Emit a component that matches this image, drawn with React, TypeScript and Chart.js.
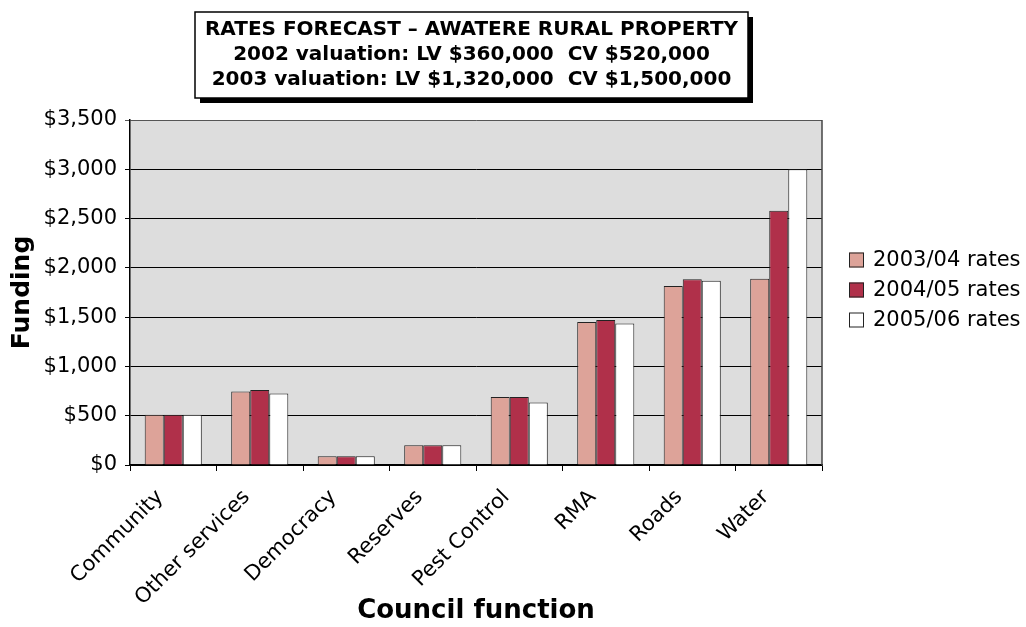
import React, { useEffect, useRef } from "react";
import { Chart, registerables } from "chart.js";

Chart.register(...registerables);

// Council functions along the category axis
const categories = [
  "Community",
  "Other services",
  "Democracy",
  "Reserves",
  "Pest Control",
  "RMA",
  "Roads",
  "Water",
];

// Funding per function, in dollars
const rates0304 = [510, 745, 90, 200, 690, 1450, 1815, 1890];
const rates0405 = [510, 760, 90, 200, 690, 1470, 1885, 2580];
const rates0506 = [510, 725, 90, 200, 635, 1435, 1870, 3000];

const seriesLabels = ["2003/04 rates", "2004/05 rates", "2005/06 rates"];
const seriesColors = ["#DDA399", "#B0304A", "#FFFFFF"];

const titleLines = [
  "RATES FORECAST – AWATERE RURAL PROPERTY",
  "2002 valuation: LV $360,000  CV $520,000",
  "2003 valuation: LV $1,320,000  CV $1,500,000",
];

const yMin = 0;
const yMax = 3500;
const yStep = 500;

const FONT = "'DejaVu Sans', Verdana, sans-serif";

// Grey plot background, right frame edge, boxed heading with drop shadow and the side key
const framePlugin = {
  id: "frame",
  beforeDraw(chart: any) {
    const { ctx, chartArea: a } = chart;
    ctx.save();
    ctx.fillStyle = "#DDDDDD";
    ctx.fillRect(a.left, a.top, a.right - a.left, a.bottom - a.top);
    ctx.restore();
  },
  afterDraw(chart: any) {
    const { ctx, chartArea: a } = chart;
    ctx.save();
    ctx.strokeStyle = "#444";
    ctx.lineWidth = 1.5;
    ctx.beginPath();
    ctx.moveTo(a.right, a.top);
    ctx.lineTo(a.right, a.bottom);
    ctx.stroke();

    // heading box
    const boxW = 553;
    const boxH = 86;
    const cx = 471.5;
    const bx = cx - boxW / 2;
    const by = 12;
    ctx.fillStyle = "#000";
    ctx.fillRect(bx + 5, by + 5, boxW, boxH);
    ctx.fillStyle = "#FFF";
    ctx.fillRect(bx, by, boxW, boxH);
    ctx.strokeStyle = "#000";
    ctx.lineWidth = 1.5;
    ctx.strokeRect(bx, by, boxW, boxH);

    ctx.fillStyle = "#000";
    ctx.font = `bold 20px ${FONT}`;
    ctx.textAlign = "center";
    ctx.textBaseline = "middle";
    titleLines.forEach((line, i) => {
      ctx.fillText(line, cx, 30 + i * 24.8);
    });

    // key: one swatch and label per dataset
    const datasets = chart.data.datasets;
    const keyX = a.right + 27;
    const midY = (a.top + a.bottom) / 2 - 2.5;
    const step = 30;
    ctx.font = `21px ${FONT}`;
    ctx.textAlign = "left";
    ctx.textBaseline = "middle";
    datasets.forEach((ds: any, i: number) => {
      const y = midY + (i - (datasets.length - 1) / 2) * step;
      ctx.fillStyle = ds.backgroundColor;
      ctx.fillRect(keyX, y - 7.5, 15, 15);
      ctx.strokeStyle = "#222";
      ctx.lineWidth = 1;
      ctx.strokeRect(keyX + 0.5, y - 7, 14, 14);
      ctx.fillStyle = "#000";
      ctx.fillText(ds.label, keyX + 24, y + 1);
    });
    ctx.restore();
  },
};

export default function App() {
  const canvasRef = useRef<HTMLCanvasElement | null>(null);

  useEffect(() => {
    if (!canvasRef.current) return;
    Chart.defaults.font.family = FONT;
    Chart.defaults.color = "#000";

    const values = [rates0304, rates0405, rates0506];
    const chart = new Chart(canvasRef.current, {
      type: "bar",
      data: {
        labels: categories,
        datasets: values.map((data, i) => ({
          label: seriesLabels[i],
          data,
          backgroundColor: seriesColors[i],
          borderColor: "#222",
          borderWidth: 1,
          categoryPercentage: 0.66,
          barPercentage: 1.0,
        })),
      },
      options: {
        responsive: false,
        animation: false,
        layout: { padding: { top: 120, right: 204, bottom: 0, left: 0 } },
        plugins: {
          title: { display: false },
          tooltip: { enabled: false },
          legend: { display: false },
        },
        scales: {
          x: {
            offset: true,
            grid: {
              display: true,
              drawOnChartArea: false,
              drawTicks: true,
              tickLength: 6,
              color: "#000",
              offset: true,
            },
            border: { display: true, color: "#000", width: 1.5 },
            ticks: {
              color: "#000",
              font: { size: 21 },
              minRotation: 45,
              maxRotation: 45,
              autoSkip: false,
              padding: 14,
              labelOffset: -13,
            },
            title: {
              display: true,
              text: "Council function",
              color: "#000",
              font: { size: 26, weight: "bold" },
              padding: 0,
            },
            afterFit(scale: any) {
              scale.height = 162;
            },
          },
          y: {
            min: yMin,
            max: yMax,
            ticks: {
              stepSize: yStep,
              color: "#000",
              font: { size: 21 },
              padding: 8,
              callback: (v: any) => "$" + Number(v).toLocaleString("en-US"),
            },
            grid: {
              color: (c: any) => (c.tick && c.tick.value === yMax ? "#555" : "#000"),
              lineWidth: 1,
              tickLength: 5,
              drawTicks: true,
            },
            border: { display: true, color: "#000", width: 1.5 },
            title: {
              display: true,
              text: "Funding",
              color: "#000",
              font: { size: 25, weight: "bold" },
              padding: { top: 7, bottom: 0 },
            },
            afterFit(scale: any) {
              scale.width = 130;
            },
          },
        },
      },
      plugins: [framePlugin],
    } as any);

    return () => chart.destroy();
  }, []);

  return (
    <div
      style={{
        position: "fixed",
        left: 0,
        top: 0,
        width: 1026,
        height: 627,
        background: "#fff",
      }}
    >
      <canvas ref={canvasRef} width={1026} height={627} />
    </div>
  );
}
